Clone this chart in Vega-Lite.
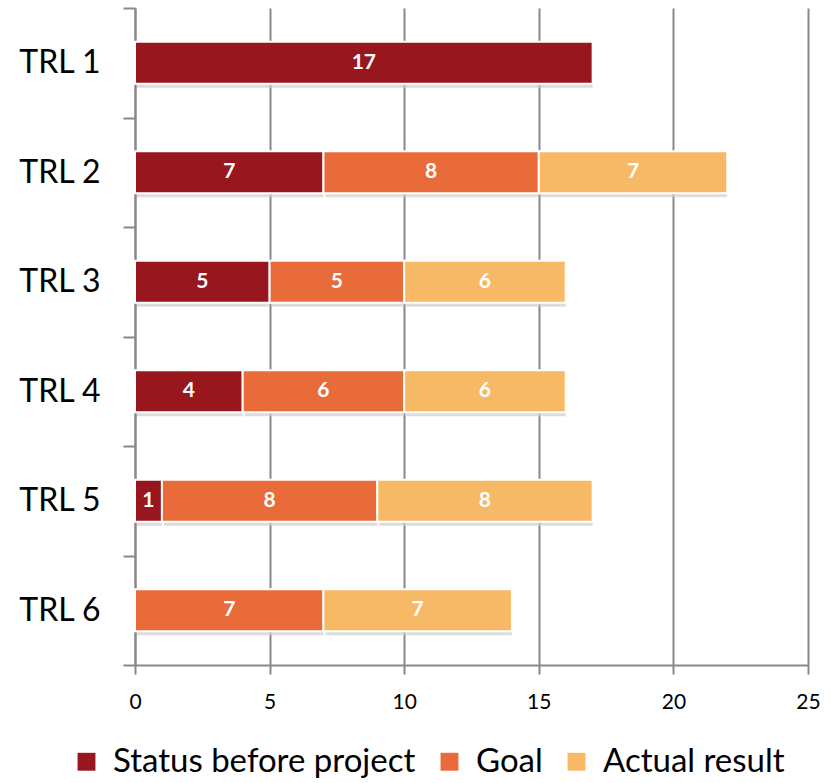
{
  "$schema": "https://vega.github.io/schema/vega-lite/v6.json",
  "width": 673,
  "height": 657,
  "autosize": {"type": "none"},
  "padding": {"left": 135, "top": 8, "right": 28, "bottom": 118},
  "background": "white",
  "config": {
    "view": {"stroke": null},
    "font": "Lato"
  },
  "data": {
    "values": [
      {"trl": "TRL 1", "series": "Status before project", "order": 1, "value": 17},
      {"trl": "TRL 2", "series": "Status before project", "order": 1, "value": 7},
      {"trl": "TRL 2", "series": "Goal", "order": 2, "value": 8},
      {"trl": "TRL 2", "series": "Actual result", "order": 3, "value": 7},
      {"trl": "TRL 3", "series": "Status before project", "order": 1, "value": 5},
      {"trl": "TRL 3", "series": "Goal", "order": 2, "value": 5},
      {"trl": "TRL 3", "series": "Actual result", "order": 3, "value": 6},
      {"trl": "TRL 4", "series": "Status before project", "order": 1, "value": 4},
      {"trl": "TRL 4", "series": "Goal", "order": 2, "value": 6},
      {"trl": "TRL 4", "series": "Actual result", "order": 3, "value": 6},
      {"trl": "TRL 5", "series": "Status before project", "order": 1, "value": 1},
      {"trl": "TRL 5", "series": "Goal", "order": 2, "value": 8},
      {"trl": "TRL 5", "series": "Actual result", "order": 3, "value": 8},
      {"trl": "TRL 6", "series": "Goal", "order": 2, "value": 7},
      {"trl": "TRL 6", "series": "Actual result", "order": 3, "value": 7}
    ]
  },
  "transform": [
    {"stack": "value", "groupby": ["trl"], "sort": [{"field": "order"}], "as": ["x0", "x1"]},
    {"calculate": "(datum.x0 + datum.x1) / 2", "as": "mid"}
  ],
  "encoding": {
    "y": {
      "field": "trl",
      "type": "nominal",
      "sort": ["TRL 1", "TRL 2", "TRL 3", "TRL 4", "TRL 5", "TRL 6"],
      "scale": {"paddingInner": 0, "paddingOuter": 0},
      "axis": {
        "title": null,
        "tickBand": "extent",
        "domainColor": "#888888",
        "domainWidth": 2,
        "tickColor": "#888888",
        "tickWidth": 2,
        "tickSize": 12,
        "labelFontSize": 32,
        "labelColor": "#000000",
        "labelPadding": 23,
        "grid": false
      }
    }
  },
  "layer": [
    {
      "mark": {"type": "bar", "height": 42, "color": "#cfcfcf", "opacity": 0.7, "xOffset": 2, "yOffset": 4},
      "encoding": {
        "x": {"field": "x0", "type": "quantitative"},
        "x2": {"field": "x1"}
      }
    },
    {
      "mark": {"type": "bar", "height": 42, "stroke": "#ffffff", "strokeWidth": 2},
      "encoding": {
        "x": {
          "field": "x0",
          "type": "quantitative",
          "scale": {"domain": [0, 25], "nice": false},
          "axis": {
            "title": null,
            "values": [0, 5, 10, 15, 20, 25],
            "grid": true,
            "gridColor": "#888888",
            "gridWidth": 2,
            "domainColor": "#888888",
            "domainWidth": 2,
            "tickColor": "#888888",
            "tickWidth": 2,
            "tickSize": 9,
            "labelFontSize": 21,
            "labelColor": "#000000",
            "labelPadding": 17,
            "labelFlush": false
          }
        },
        "x2": {"field": "x1"},
        "color": {
          "field": "series",
          "type": "nominal",
          "scale": {
            "domain": ["Status before project", "Goal", "Actual result"],
            "range": ["#98171f", "#e96b3a", "#f7b966"]
          },
          "legend": {
            "title": null,
            "orient": "none",
            "direction": "horizontal",
            "legendX": -65,
            "legendY": 737,
            "symbolType": "square",
            "symbolSize": 320,
            "symbolStrokeWidth": 0,
            "labelFontSize": 33,
            "labelColor": "#000000",
            "labelOffset": 10,
            "columnPadding": 17,
            "labelLimit": 400
          }
        }
      }
    },
    {
      "mark": {"type": "text", "color": "#ffffff", "fontWeight": "bold", "fontSize": 21, "baseline": "middle", "align": "center"},
      "encoding": {
        "x": {"field": "mid", "type": "quantitative"},
        "text": {"field": "value", "type": "quantitative"}
      }
    }
  ]
}
